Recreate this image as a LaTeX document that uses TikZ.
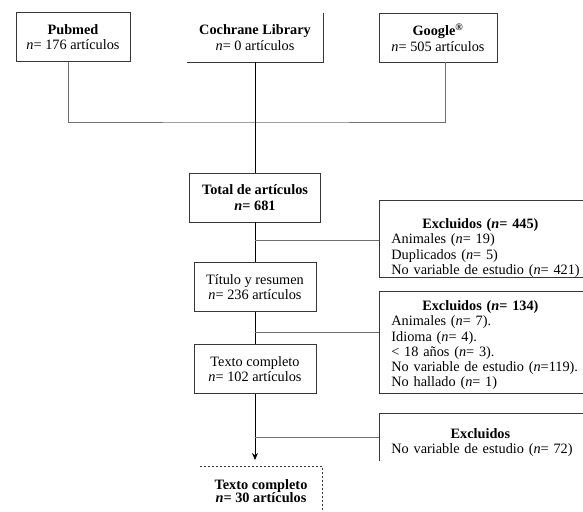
\documentclass[tikz,border=0pt]{standalone}
\usepackage{fontspec}
\setmainfont{Liberation Serif}
\usetikzlibrary{arrows.meta,positioning}
\definecolor{bxgray}{RGB}{55,55,55}
\definecolor{lngray}{RGB}{110,110,110}
\tikzstyle{source} = [rectangle, minimum height=49pt, inner sep=0pt, align=center, draw=bxgray, line width=0.8pt]
\tikzstyle{stage} = [rectangle, minimum height=49pt, inner sep=0pt, align=center, draw=bxgray, line width=0.8pt]
\tikzstyle{excluded} = [rectangle, anchor=north west, inner xsep=12pt, inner ysep=0pt, text width=200pt, align=left, draw=bxgray, line width=0.8pt]
\tikzstyle{result} = [rectangle, minimum height=50pt, inner sep=0pt, align=center, anchor=north]
\tikzstyle{edge} = [draw=bxgray, line width=0.8pt]
\tikzstyle{line} = [draw=lngray, line width=0.8pt]
\tikzstyle{spine} = [draw=black, line width=0.8pt]
\tikzstyle{arrow} = [draw=black, line width=0.8pt, -{Stealth[length=7pt,width=6pt]}, shorten >=6pt]

\begin{document}
\begin{tikzpicture}[x=1pt, y=-1pt, font=\fontsize{14.3}{15.3}\selectfont]
\useasboundingbox (0,0) rectangle (583,511);
\clip (0,0) rectangle (583,511);
% Sources
\node (pubmed) [source, minimum width=114pt] at (73,37) {\textbf{Pubmed}\\\textit{n}= 176 artículos};
\node (cochrane) [source, draw=none, minimum width=136pt] at (255,37.5) {\textbf{Cochrane Library}\\\textit{n}= 0 artículos};
\draw[edge] (cochrane.north east) -- (cochrane.south east) -- (cochrane.south west);
\node (google) [source, minimum width=118pt] at (438,37.5) {\textbf{Google\textsuperscript{®}}\\\textit{n}= 505 artículos};

% Screening stages
\node (total) [stage, minimum width=131pt] at (255,197.5) {\textbf{Total de artículos}\\\textbf{\textit{n}= 681}};
\node (titulo) [stage, minimum width=122pt] at (255,287) {Título y resumen\\\textit{n}= 236 artículos};
\node (texto) [stage, minimum width=122pt] at (255,369) {Texto completo\\\textit{n}= 102 artículos};
\node (final) [result, minimum width=122pt, font=\fontsize{14.3}{13}\selectfont] at (261,466) {\textbf{Texto completo}\\\textbf{\textit{n}= 30 artículos}};
\draw[edge, dash pattern=on 2pt off 2pt] (final.north west) -- (final.north east) -- (final.south east);

% Exclusions
\node (excl1) [excluded] at (379,200) {\rule{0pt}{28pt}\makebox[178pt]{\textbf{Excluidos (\textit{n}= 445)}}\\
Animales (\textit{n}= 19)\\
Duplicados (\textit{n}= 5)\\
No variable de estudio (\textit{n}= 421)\rule[-3pt]{0pt}{0pt}};
\node (excl2) [excluded] at (379,291) {\rule{0pt}{19pt}\makebox[178pt]{\textbf{Excluidos (\textit{n}= 134)}}\\
Animales (\textit{n}= 7).\\
Idioma (\textit{n}= 4).\\
< 18 años (\textit{n}= 3).\\
No variable de estudio (\textit{n}=119).\\
No hallado (\textit{n}= 1)\rule[-6.5pt]{0pt}{0pt}};
\node (excl3) [excluded, draw=none] at (379,413) {\rule{0pt}{25pt}\makebox[178pt]{\textbf{Excluidos}}\\
No variable de estudio (\textit{n}= 72)\rule[-7pt]{0pt}{0pt}};
\draw[edge] (excl3.south west) -- (excl3.north west) -- (excl3.north east);

% Connectors
\coordinate (merge) at (255,122);
\draw[line] ([xshift=-5pt]pubmed.south) |- (merge) -| ([xshift=7pt]google.south);
\draw[spine] (cochrane.south) -- (total.north);
\draw[spine] (total.south) -- (titulo.north);
\draw[spine] (titulo.south) -- (texto.north);
\draw[arrow] (texto.south) -- (texto.south |- final.north);
\coordinate (cut1) at (255,240);
\coordinate (cut2) at (255,332);
\coordinate (cut3) at (255,437);
\draw[line] (cut1) -- (cut1 -| excl1.west);
\draw[line] (cut2) -- (cut2 -| excl2.west);
\draw[line] (cut3) -- (cut3 -| excl3.west);
\end{tikzpicture}
\end{document}
